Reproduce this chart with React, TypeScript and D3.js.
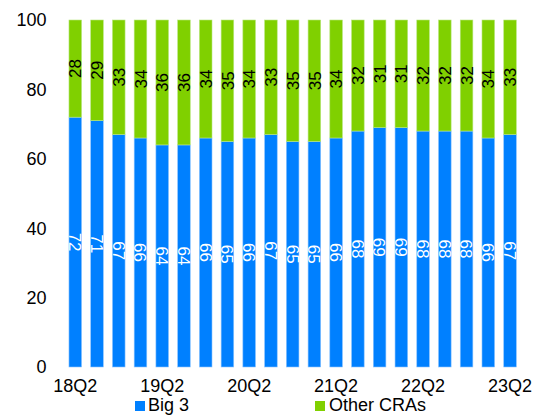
import React from "react";
import * as d3 from "d3";

const quarters = ["18Q2","18Q3","18Q4","19Q1","19Q2","19Q3","19Q4","20Q1","20Q2","20Q3","20Q4","21Q1","21Q2","21Q3","21Q4","22Q1","22Q2","22Q3","22Q4","23Q1","23Q2"];
const big3 = [72,71,67,66,64,64,66,65,66,67,65,65,66,68,69,69,68,68,68,66,67];
const others = [28,29,33,34,36,36,34,35,34,33,35,35,34,32,31,31,32,32,32,34,33];
const yTicks = [0,20,40,60,80,100];
const xTickLabels = ["18Q2","19Q2","20Q2","21Q2","22Q2","23Q2"];
const seriesNames = ["Big 3","Other CRAs"];
const colors = ["#0080ff","#80d000"];

const W = 540, H = 417;
const FONT = "Arial, 'Liberation Sans', sans-serif";

export default function App() {
  const x = d3.scaleBand<string>().domain(quarters).range([64.4, 520.9]).paddingInner(0.42).paddingOuter(0.21);
  const y = d3.scaleLinear().domain([0, 100]).range([367, 20]);
  const bw = x.bandwidth();

  return (
    <svg width={W} height={H} style={{ position: "absolute", left: 0, top: 0, background: "#fff" }} fontFamily={FONT}>
      {yTicks.map((t) => (
        <text key={t} x={46.5} y={y(t)} dy="0.36em" textAnchor="end" fontSize={18} fill="#000">{t}</text>
      ))}
      {quarters.map((q, i) => {
        const x0 = x(q)!;
        const cx = x0 + bw / 2;
        const yB = y(big3[i]);
        const yT = y(big3[i] + others[i]);
        return (
          <g key={q}>
            <rect x={x0} y={yB} width={bw} height={y(0) - yB} fill={colors[0]} stroke="#8cc4ff" strokeWidth={0.6} />
            <rect x={x0} y={yT} width={bw} height={yB - yT} fill={colors[1]} stroke="#b8e680" strokeWidth={0.6} />
            <text transform={`translate(${cx},${(yT + yB) / 2}) rotate(-90)`} textAnchor="middle" dy="0.36em" fontSize={17} fill="#000">{others[i]}</text>
            <text transform={`translate(${cx},${(yB + y(0)) / 2}) rotate(90)`} textAnchor="middle" dy="0.36em" fontSize={17} fill="#fff">{big3[i]}</text>
          </g>
        );
      })}
      {xTickLabels.map((q) => (
        <text key={q} x={x(q)! + bw / 2} y={392} textAnchor="middle" fontSize={18} fill="#000">{q}</text>
      ))}
      <g>
        <rect x={135} y={401} width={10} height={10} fill={colors[0]} />
        <text x={148} y={411} fontSize={18} fill="#000">{seriesNames[0]}</text>
        <rect x={315} y={401} width={10} height={10} fill={colors[1]} />
        <text x={329} y={411} fontSize={18} fill="#000">{seriesNames[1]}</text>
      </g>
    </svg>
  );
}
